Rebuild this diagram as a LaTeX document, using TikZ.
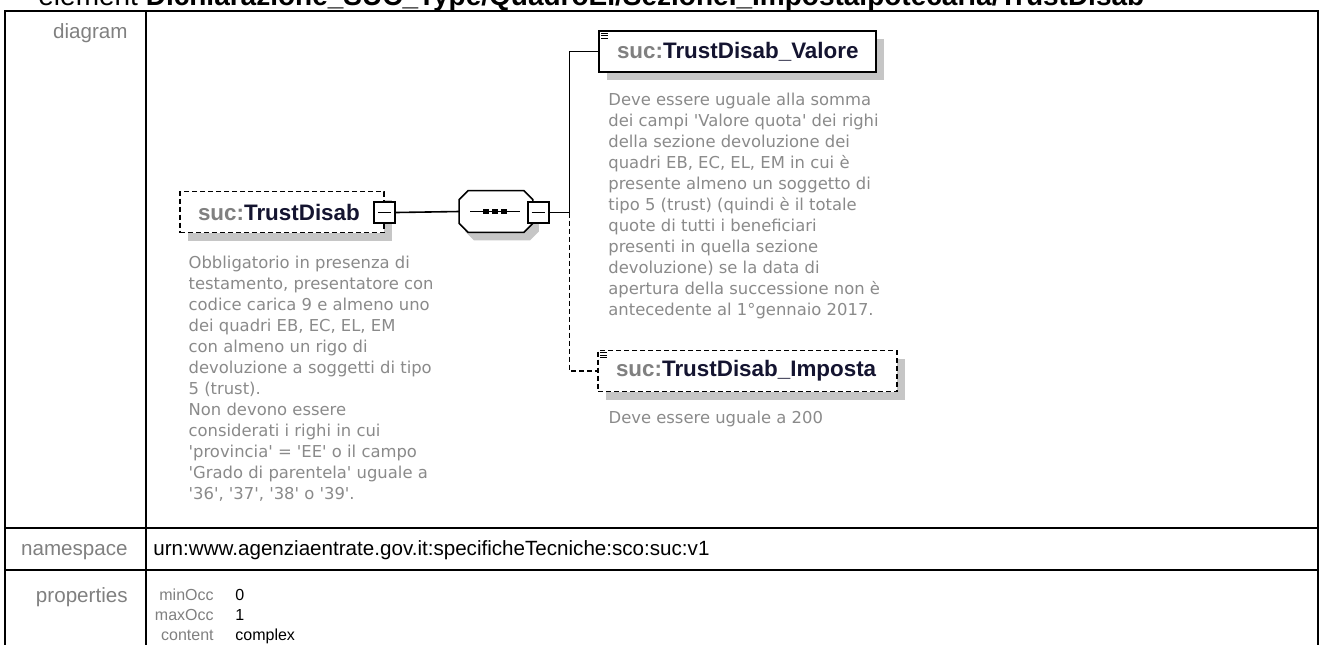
\documentclass[tikz,border=0pt]{standalone}
\usepackage{fontspec}
\setmainfont{Liberation Sans}
\newfontfamily\descfont{DejaVu Sans}[Ligatures=TeXOff]
\usepackage{tikz}
\usetikzlibrary{shadows, positioning}

\definecolor{labgray}{HTML}{808080}
\definecolor{descgray}{HTML}{8A8A8A}
\definecolor{shadowgray}{HTML}{C6C6C6}
\definecolor{namecol}{HTML}{141430}

\newcommand{\elname}[1]{\textcolor{labgray}{suc:}\textcolor{namecol}{#1}}

\begin{document}
\begin{tikzpicture}[x=0.5pt, y=-0.5pt,
  frame/.style={line width=1pt},
  lab/.style={anchor=base east, inner sep=0pt, text=labgray, font=\fontsize{10.3}{12}\selectfont},
  entry/.style={anchor=base west, inner sep=0pt, font=\fontsize{10.3}{12}\selectfont},
  proplab/.style={lab, font=\fontsize{8}{10}\selectfont},
  propval/.style={entry, font=\fontsize{8}{10}\selectfont},
  elem/.style={draw, fill=white, line width=1pt, minimum height=20.5pt, inner xsep=9pt, inner ysep=0pt, align=left, font=\bfseries\fontsize{11.2}{13}\selectfont, general shadow={fill=shadowgray, shadow xshift=4pt, shadow yshift=-4pt}},
  optelem/.style={elem, line width=0.75pt, dash pattern=on 2.5pt off 1.5pt},
  desc/.style={anchor=north west, inner sep=0pt, align=left, text=descgray, font=\descfont\fontsize{8.2}{10.5}\selectfont},
  btn/.style={draw, fill=white, line width=1pt, minimum size=10.5pt, inner sep=0pt, path picture={\draw[line width=0.8pt] ([xshift=2pt]path picture bounding box.west) -- ([xshift=-2pt]path picture bounding box.east);}},
  seqbox/.style={rectangle, minimum width=36.5pt, minimum height=20.5pt, inner sep=0pt},
  seqline/.style={draw, fill=white, line width=0.8pt, general shadow={fill=shadowgray, shadow xshift=3pt, shadow yshift=-4pt}},
  link/.style={line width=0.8pt},
  optlink/.style={link, dash pattern=on 2.5pt off 1.5pt}
]
\useasboundingbox (0,0) rectangle (1322,644);

\node[anchor=base west, inner sep=0pt, font=\fontsize{14}{16}\selectfont] (title) at (38,5) {element \textbf{Dichiarazione\_SUC\_Type/QuadroEI/SezioneI\_Impostaipotecaria/TrustDisab}};

\draw[frame] (5,650) -- (5,11) -- (1318,11) -- (1318,650);
\draw[frame] (146,11) -- (146,650);
\draw[frame] (5,528) -- (1318,528);
\draw[frame] (5,570) -- (1318,570);

\node[lab] (dglab) at (128,38) {diagram};
\node[lab] (nslab) at (128,555) {namespace};
\node[entry] (ns) at (153,555) {urn:www.agenziaentrate.gov.it:specificheTecniche:sco:suc:v1};
\node[lab] (prlab) at (128,602) {properties};
\node[proplab] (minlab) at (214,600) {minOcc};
\node[propval] (minv) at (235,600) {0};
\node[proplab] (maxlab) at (214,620) {maxOcc};
\node[propval] (maxv) at (235,620) {1};
\node[proplab] (ctlab) at (214,640) {content};
\node[propval] (ctv) at (235,640) {complex};

\node[optelem, text width=84pt] (td) at (282,212) {\elname{TrustDisab}};
\node[btn] (tdbtn) at (384.5,212.5) {};
\node[seqbox] (seq) at (496,211.5) {};
\draw[seqline] ([yshift=-4.5pt]seq.north west) -- ([xshift=4.5pt]seq.north west) -- ([xshift=-4.5pt]seq.north east) -- ([yshift=-4.5pt]seq.north east) -- ([yshift=4.5pt]seq.south east) -- ([xshift=-4.5pt]seq.south east) -- ([xshift=4.5pt]seq.south west) -- ([yshift=4.5pt]seq.south west) -- cycle;
\draw[link] ([xshift=-13pt]seq.center) -- ([xshift=12pt]seq.center);
\foreach \i in {-1,0,1}
  \fill ([xshift=\i*4.5pt-0.5pt]seq.center) +(-3,-2.5) rectangle +(3,2.5);
\node[btn] (seqbtn) at (538,212.5) {};
\node[elem, text width=120.5pt] (val) at (737.5,51.5) {\elname{TrustDisab\_Valore}};
\node[optelem, text width=131.5pt] (imp) at (747.5,371) {\elname{TrustDisab\_Imposta}};

\foreach \b in {val,imp}
  \foreach \k in {0,1,2}
    \draw[line width=0.5pt] ([shift={(1.5pt,{-1.5pt-\k*1.25pt})}]\b.north west) -- ++(7,0);

\draw[link] (tdbtn.east) -- (seq.west);
\draw[link] (seqbtn.east) -- ++(20,0) coordinate (fork) |- (val.west);
\draw[optlink] (fork) |- (imp.west);

\node[desc] (tddesc) at ([shift={(4.5pt,-11pt)}]td.south west) {Obbligatorio in presenza di\\testamento, presentatore con\\codice carica 9 e almeno uno\\dei quadri EB, EC, EL, EM\\con almeno un rigo di\\devoluzione a soggetti di tipo\\5 (trust).\\Non devono essere\\considerati i righi in cui\\'provincia' = 'EE' o il campo\\'Grado di parentela' uguale a\\'36', '37', '38' o '39'.};
\node[desc] (valdesc) at ([shift={(5pt,-10pt)}]val.south west) {Deve essere uguale alla somma\\dei campi 'Valore quota' dei righi\\della sezione devoluzione dei\\quadri EB, EC, EL, EM in cui è\\presente almeno un soggetto di\\tipo 5 (trust) (quindi è il totale\\quote di tutti i beneficiari\\presenti in quella sezione\\devoluzione) se la data di\\apertura della successione non è\\antecedente al 1°gennaio 2017.};
\node[desc] (impdesc) at ([shift={(5.5pt,-9pt)}]imp.south west) {Deve essere uguale a 200};
\end{tikzpicture}
\end{document}
